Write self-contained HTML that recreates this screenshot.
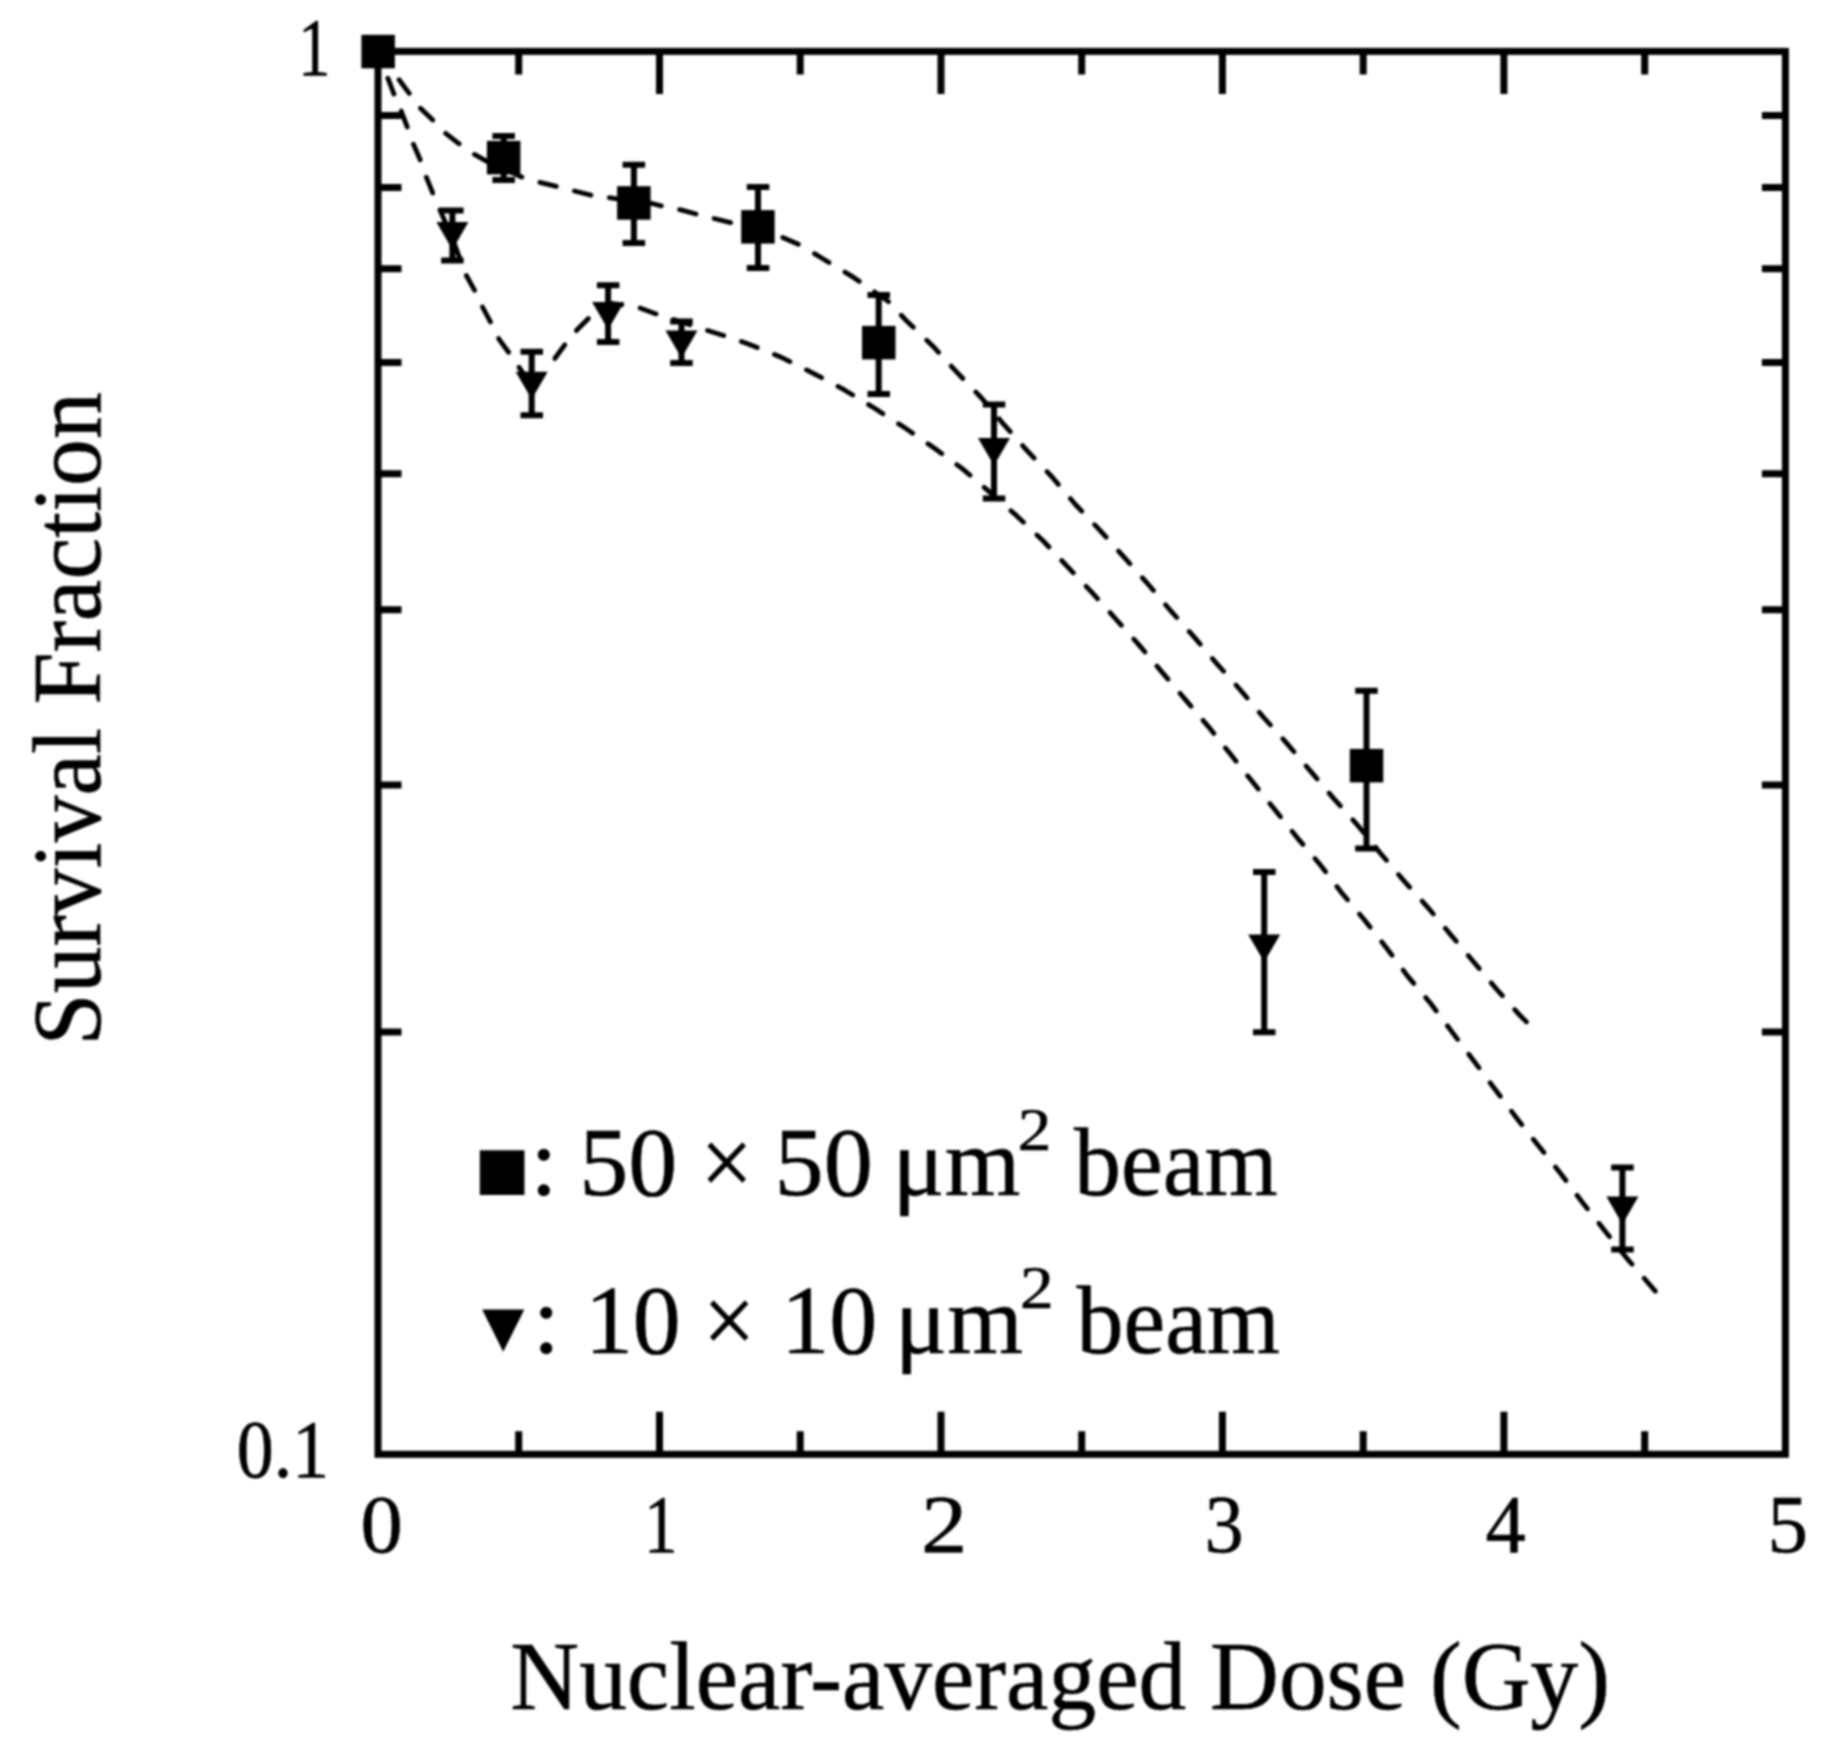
<!DOCTYPE html>
<html lang="en"><head><meta charset="utf-8"><title>Survival Fraction vs Nuclear-averaged Dose</title>
<style>
html,body{margin:0;padding:0;background:#fff}
body{width:1826px;height:1746px;overflow:hidden}
svg{display:block;filter:blur(0.8px)}
</style></head><body>
<svg width="1826" height="1746" viewBox="0 0 1826 1746">
<rect width="1826" height="1746" fill="#fff"/>
<rect x="378.0" y="51.4" width="1407.4" height="1402.9" fill="none" stroke="#000" stroke-width="7.0" stroke-linejoin="miter"/>
<path d="M518.7 51.4v23.0M518.7 1454.3v-23.0M659.5 51.4v42.5M659.5 1454.3v-42.5M800.2 51.4v23.0M800.2 1454.3v-23.0M941.0 51.4v42.5M941.0 1454.3v-42.5M1081.7 51.4v23.0M1081.7 1454.3v-23.0M1222.4 51.4v42.5M1222.4 1454.3v-42.5M1363.2 51.4v23.0M1363.2 1454.3v-23.0M1503.9 51.4v42.5M1503.9 1454.3v-42.5M1644.7 51.4v23.0M1644.7 1454.3v-23.0M378.0 115.6h23.5M1785.4 115.6h-23.5M378.0 187.4h23.5M1785.4 187.4h-23.5M378.0 268.7h23.5M1785.4 268.7h-23.5M378.0 362.6h23.5M1785.4 362.6h-23.5M378.0 473.7h23.5M1785.4 473.7h-23.5M378.0 609.7h23.5M1785.4 609.7h-23.5M378.0 784.9h23.5M1785.4 784.9h-23.5M378.0 1032.0h23.5M1785.4 1032.0h-23.5" fill="none" stroke="#000" stroke-width="7.0"/>
<path d="M378.0 51.0 L399.0 79.6 L411.1 95.9 L419.5 107.3 L435.2 122.4 L444.8 132.7 L461.1 145.3 L473.1 153.7 L488.2 162.2 L504.0 169.0 L521.0 176.9 L537.7 181.8 L557.4 186.7 L573.2 190.7 L592.9 195.6 L608.7 197.6 L634.0 201.5 L652.1 203.5 L663.9 206.5 L681.9 210.1 L697.4 214.4 L713.2 218.3 L732.9 223.2 L758.0 229.5 L782.7 237.5 L800.2 245.1 L822.1 258.3 L852.8 276.9 L887.8 301.0 L907.5 321.8 L932.7 345.9 L956.8 372.2 L982.0 398.5 L1004.0 424.7 L1027.3 450.9 L1052.1 477.0 L1075.4 504.5 L1100.2 530.6 L1123.6 556.7 L1146.9 582.8 L1170.3 610.3 L1193.6 636.4 L1217.0 663.9 L1240.4 690.0 L1263.7 717.5 L1287.1 743.6 L1310.5 771.1 L1333.8 798.6 L1357.2 824.7 L1380.6 853.5 L1403.3 880.1 L1427.7 907.3 L1450.6 934.6 L1473.5 961.8 L1496.4 989.0 L1519.3 1014.7 L1526.5 1021.9" fill="none" stroke="#000" stroke-width="4.8" stroke-dasharray="17.0 18.65" stroke-dashoffset="0.00" stroke-linejoin="round" stroke-linecap="round"/>
<path d="M378.0 51.0 L387.0 76.0 L394.2 94.7 L400.8 109.8 L407.5 127.8 L412.9 142.9 L420.7 161.0 L426.1 176.6 L433.4 194.7 L453.0 240.0 L465.8 274.5 L475.6 292.2 L482.5 307.0 L491.4 323.8 L499.3 339.6 L510.1 354.3 L532.0 386.0" fill="none" stroke="#000" stroke-width="4.8" stroke-dasharray="17.0 18.40" stroke-dashoffset="6.45" stroke-linejoin="round" stroke-linecap="round"/>
<path d="M546.0 369.3 L553.5 360.3 L564.3 345.5 L575.2 331.7 L589.0 317.9 L608.0 303.0" fill="none" stroke="#000" stroke-width="4.8" stroke-dasharray="17.0 18.40" stroke-dashoffset="21.49" stroke-linejoin="round" stroke-linecap="round"/>
<path d="M608.0 303.0 L637.3 307.0 L656.0 313.9 L671.8 318.9 L682.0 322.3 L705.3 329.7 L723.5 335.5 L747.6 343.7 L780.5 356.9 L813.3 373.3 L844.0 389.7 L874.7 408.3 L905.3 428.1 L933.8 447.8 L962.3 468.6 L988.0 490.6 L1016.3 515.4 L1042.5 540.2 L1067.2 566.3 L1091.9 592.4 L1115.3 618.5 L1138.7 644.6 L1162.0 672.1 L1185.4 699.6 L1208.8 727.1 L1230.8 754.6 L1252.7 782.1 L1274.7 809.6 L1296.7 837.1 L1320.1 864.6 L1341.8 893.0 L1364.7 920.2 L1386.1 947.4 L1407.6 976.1 L1430.5 1003.3 L1452.0 1031.9 L1473.5 1060.5 L1495.0 1089.2 L1516.4 1117.8 L1537.9 1145.0 L1560.8 1173.7 L1582.3 1202.3 L1603.8 1229.5 L1626.7 1258.1 L1655.3 1291.1" fill="none" stroke="#000" stroke-width="4.8" stroke-dasharray="17.0 18.57" stroke-dashoffset="3.05" stroke-linejoin="round" stroke-linecap="round"/>
<path d="M503.7 136.1V179.9M492.4 136.1h22.5M492.4 179.9h22.5M633.9 164.7V242.9M622.6 164.7h22.5M622.6 242.9h22.5M758.0 187.1V268.1M746.8 187.1h22.5M746.8 268.1h22.5M878.7 295.1V394.1M867.5 295.1h22.5M867.5 394.1h22.5M1366.5 690.8V848.6M1355.2 690.8h22.5M1355.2 848.6h22.5M452.4 210.6V260.6M441.1 210.6h22.5M441.1 260.6h22.5M531.7 351.8V415.2M520.5 351.8h22.5M520.5 415.2h22.5M608.1 285.3V342.0M596.9 285.3h22.5M596.9 342.0h22.5M681.5 321.6V362.9M670.2 321.6h22.5M670.2 362.9h22.5M994.0 404.6V498.6M982.8 404.6h22.5M982.8 498.6h22.5M1264.2 872.0V1032.3M1253.0 872.0h22.5M1253.0 1032.3h22.5M1622.4 1167.4V1249.6M1611.2 1167.4h22.5M1611.2 1249.6h22.5" fill="none" stroke="#000" stroke-width="6.0"/>
<rect x="361.4" y="34.8" width="33.5" height="33.5"/>
<rect x="486.9" y="140.9" width="33.5" height="33.5"/>
<rect x="617.1" y="186.2" width="33.5" height="33.5"/>
<rect x="741.2" y="210.1" width="33.5" height="33.5"/>
<rect x="862.0" y="325.9" width="33.5" height="33.5"/>
<rect x="1349.8" y="748.9" width="33.5" height="33.5"/>
<path d="M436.4 222.1h32.0l-16.0 27.6z"/>
<path d="M515.7 371.7h32.0l-16.0 27.6z"/>
<path d="M592.1 302.0h32.0l-16.0 27.6z"/>
<path d="M665.5 330.4h32.0l-16.0 27.6z"/>
<path d="M978.0 437.9h32.0l-16.0 27.6z"/>
<path d="M1248.2 934.5h32.0l-16.0 27.6z"/>
<path d="M1606.4 1196.6h32.0l-16.0 27.6z"/>
<text x="297.9" y="75.0" font-size="82" textLength="32.5" lengthAdjust="spacingAndGlyphs" stroke="#000" stroke-width="0.6" style="font-family:'Liberation Serif','DejaVu Serif',serif">1</text>
<text x="236.7" y="1477.0" font-size="82" textLength="92.4" lengthAdjust="spacingAndGlyphs" stroke="#000" stroke-width="0.6" style="font-family:'Liberation Serif','DejaVu Serif',serif">0.1</text>
<text x="360.4" y="1552.3" font-size="82" textLength="42.3" lengthAdjust="spacingAndGlyphs" stroke="#000" stroke-width="0.6" style="font-family:'Liberation Serif','DejaVu Serif',serif">0</text>
<text x="644.1" y="1552.3" font-size="82" textLength="33.5" lengthAdjust="spacingAndGlyphs" stroke="#000" stroke-width="0.6" style="font-family:'Liberation Serif','DejaVu Serif',serif">1</text>
<text x="921.0" y="1552.3" font-size="82" textLength="46.3" lengthAdjust="spacingAndGlyphs" stroke="#000" stroke-width="0.6" style="font-family:'Liberation Serif','DejaVu Serif',serif">2</text>
<text x="1204.8" y="1552.3" font-size="82" textLength="38.8" lengthAdjust="spacingAndGlyphs" stroke="#000" stroke-width="0.6" style="font-family:'Liberation Serif','DejaVu Serif',serif">3</text>
<text x="1485.6" y="1552.3" font-size="82" textLength="40.2" lengthAdjust="spacingAndGlyphs" stroke="#000" stroke-width="0.6" style="font-family:'Liberation Serif','DejaVu Serif',serif">4</text>
<text x="1767.5" y="1552.3" font-size="82" textLength="40.5" lengthAdjust="spacingAndGlyphs" stroke="#000" stroke-width="0.6" style="font-family:'Liberation Serif','DejaVu Serif',serif">5</text>
<text x="510.3" y="1709.0" font-size="97" textLength="1099.7" lengthAdjust="spacingAndGlyphs" stroke="#000" stroke-width="0.6" style="font-family:'Liberation Serif','DejaVu Serif',serif">Nuclear-averaged Dose (Gy)</text>
<text style="font-family:'Liberation Serif','DejaVu Serif',serif"><tspan x="474.5" y="1188.0" font-size="58.5" style="font-family:'DejaVu Sans',sans-serif">■</tspan><tspan x="530.3" y="1195.3" font-size="98" stroke="#000" stroke-width="0.6">:</tspan> <tspan x="579.3" y="1195.3" font-size="98" textLength="98.0" lengthAdjust="spacingAndGlyphs" stroke="#000" stroke-width="0.6">50</tspan> <tspan x="700.6" y="1195.3" font-size="98" textLength="52.3" lengthAdjust="spacingAndGlyphs" stroke="#000" stroke-width="0.6">×</tspan> <tspan x="774.5" y="1195.3" font-size="98" textLength="98.4" lengthAdjust="spacingAndGlyphs" stroke="#000" stroke-width="0.6">50</tspan> <tspan x="892.6" y="1195.3" font-size="98" textLength="127.8" lengthAdjust="spacingAndGlyphs" stroke="#000" stroke-width="0.6">μm</tspan><tspan x="1017.7" y="1150.2" font-size="61" textLength="33.7" lengthAdjust="spacingAndGlyphs" stroke="#000" stroke-width="0.6">2</tspan> <tspan x="1074.0" y="1195.3" font-size="98" textLength="203.6" lengthAdjust="spacingAndGlyphs" stroke="#000" stroke-width="0.6">beam</tspan></text>
<text style="font-family:'Liberation Serif','DejaVu Serif',serif"><tspan x="482.0" y="1345.4" font-size="55.2" style="font-family:'DejaVu Sans',sans-serif">▼</tspan><tspan x="532.7" y="1352.6" font-size="98" stroke="#000" stroke-width="0.6">:</tspan> <tspan x="584.9" y="1352.6" font-size="98" textLength="95.9" lengthAdjust="spacingAndGlyphs" stroke="#000" stroke-width="0.6">10</tspan> <tspan x="703.0" y="1352.6" font-size="98" textLength="52.3" lengthAdjust="spacingAndGlyphs" stroke="#000" stroke-width="0.6">×</tspan> <tspan x="781.3" y="1352.6" font-size="98" textLength="95.9" lengthAdjust="spacingAndGlyphs" stroke="#000" stroke-width="0.6">10</tspan> <tspan x="895.0" y="1352.6" font-size="98" textLength="127.8" lengthAdjust="spacingAndGlyphs" stroke="#000" stroke-width="0.6">μm</tspan><tspan x="1020.1" y="1307.5" font-size="61" textLength="33.7" lengthAdjust="spacingAndGlyphs" stroke="#000" stroke-width="0.6">2</tspan> <tspan x="1076.4" y="1352.6" font-size="98" textLength="203.6" lengthAdjust="spacingAndGlyphs" stroke="#000" stroke-width="0.6">beam</tspan></text>
<text transform="translate(99.7 1045.4) rotate(-90)" font-size="97" textLength="653.2" lengthAdjust="spacingAndGlyphs" stroke="#000" stroke-width="0.6" style="font-family:'Liberation Serif','DejaVu Serif',serif">Survival Fraction</text>
</svg>
</body></html>
